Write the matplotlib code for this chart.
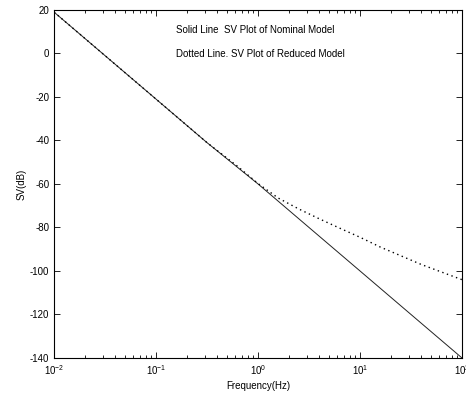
import numpy as np
import matplotlib
matplotlib.use("Agg")
import matplotlib.pyplot as plt

# frequency points (Hz) and singular values (dB)
freq_nominal = [0.01, 0.0316, 0.1, 0.316, 1.0, 3.16, 10.0, 31.6, 100.0]
sv_nominal = [19, -1, -21, -41, -60, -80, -100, -120, -140]

freq_reduced = [0.01, 0.0316, 0.1, 0.316, 0.63, 1.0, 1.58, 2.51, 3.98,
                6.31, 10.0, 15.8, 25.1, 39.8, 63.1, 100.0]
sv_reduced = [19, -1, -21, -41, -51.9, -59.8, -66.5, -71.5, -76,
              -80.3, -84.5, -89, -93, -97, -100.5, -104]

yticks = [20, 0, -20, -40, -60, -80, -100, -120, -140]

plt.rcParams['font.family'] = ['Liberation Sans', 'DejaVu Sans']
plt.rcParams['mathtext.fontset'] = 'custom'
plt.rcParams['mathtext.rm'] = 'Liberation Sans'
plt.rcParams['axes.unicode_minus'] = False

fig = plt.figure(figsize=(4.66, 3.98), dpi=100)
ax = fig.add_axes([0.116, 0.1005, 0.8755, 0.8745])

ax.semilogx(freq_nominal, sv_nominal, color="#222222", lw=0.7, ls="-")
ax.semilogx(freq_reduced, sv_reduced, color="black", lw=1.0, ls=(0, (1, 2.5)))

ax.set_xlim(0.01, 100)
ax.set_ylim(-140, 20)
ax.set_yticks(yticks)
ax.tick_params(which="both", direction="in", top=True, right=True, labelsize=7, width=0.6)
ax.tick_params(which="major", length=4)
ax.tick_params(which="minor", length=2)
for s in ax.spines.values():
    s.set_linewidth(0.8)

ax.set_xlabel("Frequency(Hz)", fontsize=7, labelpad=3)
ax.set_ylabel("SV(dB)", fontsize=7, labelpad=2)

ax.text(0.30, 0.935, "Solid Line  SV Plot of Nominal Model", transform=ax.transAxes, fontsize=7)
ax.text(0.30, 0.866, "Dotted Line. SV Plot of Reduced Model", transform=ax.transAxes, fontsize=7)

fig.savefig("out.png", dpi=100)
